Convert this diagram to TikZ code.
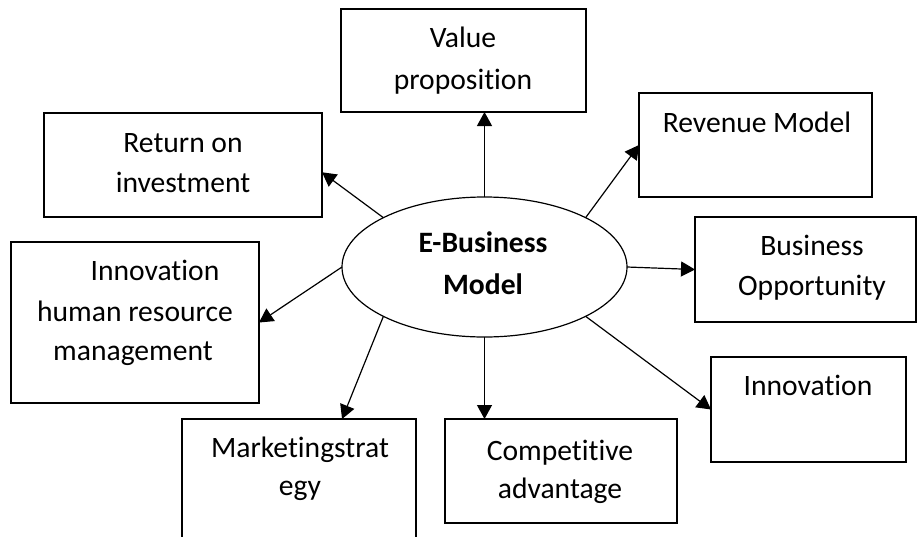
\documentclass[tikz,border=0pt]{standalone}
\usepackage{fontspec}
\setmainfont[Ligatures={NoCommon}]{Carlito}
\usetikzlibrary{shapes.geometric,arrows.meta,calc}
\begin{document}
\begin{tikzpicture}[x=1pt,y=-1pt,
  box/.style={draw, line width=1.3pt, inner sep=0pt, outer sep=0pt},
  txt/.style={anchor=base, inner sep=0pt, font=\fontsize{29.6}{35}\selectfont},
  btxt/.style={txt, font=\fontsize{29.6}{35}\selectfont\bfseries},
  arr/.style={line width=1.2pt, -{Triangle[length=14pt,width=15pt]}}]
\useasboundingbox (0,0) rectangle (918,536);
\clip (0,0) rectangle (918,536);
% boxes
\node[box, minimum width=245pt, minimum height=103pt] (val) at (463.5,60.5) {};
\node[box, minimum width=233pt, minimum height=104pt] (rev) at (755.5,145) {};
\node[box, minimum width=278pt, minimum height=104pt] (ret) at (183,165) {};
\node[box, minimum width=221pt, minimum height=105pt] (bus) at (805.5,269.5) {};
\node[box, minimum width=248pt, minimum height=161pt] (hrm) at (135,322.5) {};
\node[box, minimum width=195pt, minimum height=105pt] (inn) at (808.5,409.5) {};
\node[box, minimum width=234pt, minimum height=141pt] (mkt) at (299,489.5) {};
\node[box, minimum width=232pt, minimum height=104pt] (comp) at (561,471) {};
\node[draw, ellipse, line width=1.2pt, inner sep=0pt, outer sep=0pt,
      minimum width=285pt, minimum height=140pt] (ell) at (484.5,267) {};
% texts
\node[txt] (t1) at (463,47) {Value};
\node[txt] (t2) at (463,89) {proposition};
\node[txt] (t3) at (757,132) {Revenue Model};
\node[txt] (t4) at (812,255) {Business};
\node[txt] (t5) at (812,295) {Opportunity};
\node[txt] (t6) at (183,152) {Return on};
\node[txt] (t7) at (183,192) {investment};
\node[txt] (t8) at (155,280) {Innovation};
\node[txt] (t9) at (135,321) {human resource};
\node[txt] (t10) at (133,360) {management};
\node[txt] (t11) at (808,395) {Innovation};
\node[txt] (t12) at (300,457) {Marketingstrat};
\node[txt] (t13) at (300,495) {egy};
\node[txt] (t14) at (560,460) {Competitive};
\node[txt] (t15) at (560,498) {advantage};
\node[btxt] (t16) at (483,252) {E-Business};
\node[btxt] (t17) at (483,294) {Model};
% arrows
\draw[arr] (ell.north) -- (ell.north |- val.south);
\draw[arr] (ell.26) -- (rev.west);
\draw[arr] (ell.154) -- ($(ret.north east)!0.57!(ret.south east)$);
\draw[arr] (ell.west) -- (hrm.east);
\draw[arr] (ell.east) -- (bus.west);
\draw[arr] (ell.206) -- ($(mkt.north west)!0.684!(mkt.north east)$);
\draw[arr] (ell.south) -- (ell.south |- comp.north);
\draw[arr] (ell.334) -- (inn.west);
\end{tikzpicture}
\end{document}
